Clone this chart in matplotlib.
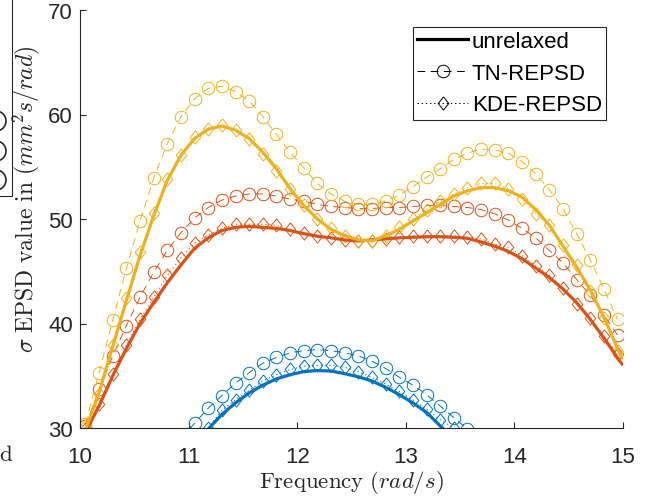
import numpy as np
import matplotlib
matplotlib.use("Agg")
import matplotlib.pyplot as plt
from matplotlib.lines import Line2D
from matplotlib.patches import Rectangle, Circle

plt.rcParams["font.family"] = ["Liberation Sans", "DejaVu Sans"]
plt.rcParams["mathtext.fontset"] = "cm"
plt.rcParams["lines.scale_dashes"] = False

nan = np.nan

# --- data -------------------------------------------------------------
# marker positions (rad/s) and the unrelaxed curve grid (same + end points)
freq = np.linspace(10.05, 14.95, 40)
freq_line = np.concatenate([[10.0], freq, [15.0]])

# unrelaxed (solid)
blue_unrelaxed = [nan] * 9 + [28.6, 29.9, 31.3, 32.4, 33.35, 34.1, 34.7, 35.1, 35.4, 35.5,
                              35.45, 35.2, 34.9, 34.5, 33.9, 33.2, 32.4, 31.5, 30.2, 29.0] + [nan] * 13
orange_unrelaxed = [28.6, 29.6, 32.1, 35.0, 37.6, 40.0, 42.0, 43.9, 45.6, 47.2, 48.2,
                    48.9, 49.2, 49.3, 49.2, 49.1, 48.9, 48.6, 48.35, 48.2, 48.0,
                    47.9, 48.0, 48.1, 48.2, 48.25, 48.3, 48.3, 48.25, 48.15, 47.8,
                    47.4, 46.9, 46.2, 45.3, 44.4, 43.3, 42.0, 40.4, 38.6, 36.7, 36.0]
yellow_unrelaxed = [28.4, 29.8, 33.4, 37.8, 42.2, 46.5, 50.3, 53.7, 56.1, 57.7, 58.6,
                    58.9, 58.5, 57.7, 56.4, 54.8, 52.9, 51.3, 50.0, 49.0, 48.4,
                    48.0, 47.9, 48.4, 49.0, 49.8, 50.6, 51.4, 52.2, 52.7, 53.0,
                    53.0, 52.7, 52.1, 50.9, 49.4, 47.4, 45.4, 43.2, 40.6, 37.6, 36.6]

# TN-REPSD (dashed, circles)
blue_tn = [nan] * 7 + [29.0, 30.45, 31.9, 33.1, 34.3, 35.3, 36.2, 36.75, 37.2, 37.4, 37.5,
                       37.4, 37.2, 36.9, 36.4, 35.7, 34.85, 34.1, 33.2, 32.1, 31.0, 29.9,
                       28.7] + [nan] * 10
orange_tn = [30.2, 33.7, 36.9, 39.8, 42.5, 44.9, 47.0, 48.7, 50.1, 51.1,
             51.8, 52.2, 52.4, 52.4, 52.2, 51.9, 51.7, 51.4, 51.2, 51.1,
             51.0, 51.0, 51.1, 51.1, 51.2, 51.3, 51.3, 51.2, 51.1, 50.9,
             50.5, 49.9, 49.1, 48.2, 47.0, 45.8, 44.2, 42.7, 40.8, 38.9]
yellow_tn = [30.4, 35.3, 40.3, 45.3, 49.8, 53.9, 57.2, 59.8, 61.5, 62.5,
             62.7, 62.2, 61.3, 59.8, 58.1, 56.4, 54.9, 53.4, 52.4, 51.7,
             51.4, 51.4, 51.7, 52.3, 53.1, 54.0, 54.8, 55.7, 56.3, 56.7,
             56.6, 56.3, 55.5, 54.3, 52.8, 51.0, 48.6, 46.1, 43.3, 40.4]

# KDE-REPSD (dotted, diamonds)
blue_kde = [nan] * 8 + [28.5, 30.0, 31.7, 32.7, 33.6, 34.5, 35.1, 35.6, 35.9, 36.0, 36.0,
                        35.8, 35.4, 34.85, 34.2, 33.5, 32.7, 31.8, 30.8, 30.0, 28.8] + [nan] * 11
orange_kde = [29.9, 32.3, 35.2, 37.9, 40.4, 42.5, 44.6, 46.3, 47.7, 48.5,
              49.1, 49.5, 49.5, 49.5, 49.4, 49.0, 48.7, 48.4, 48.2, 48.0,
              47.9, 47.9, 48.1, 48.25, 48.4, 48.4, 48.4, 48.4, 48.25, 48.1,
              47.6, 47.3, 46.5, 45.5, 44.6, 43.4, 41.9, 40.5, 38.8, 37.1]
yellow_kde = [30.2, 33.3, 37.9, 42.4, 46.8, 50.6, 53.8, 56.1, 57.8, 58.6,
              59.0, 58.5, 57.7, 56.2, 54.6, 52.9, 51.3, 50.0, 49.1, 48.4,
              47.9, 47.9, 48.4, 49.2, 50.0, 50.9, 51.7, 52.4, 53.0, 53.4,
              53.4, 52.9, 51.9, 50.5, 49.4, 47.5, 45.6, 43.1, 40.5, 37.4]

colors = ["#0072BD", "#D95319", "#EDB120"]
unrelaxed = [blue_unrelaxed, orange_unrelaxed, yellow_unrelaxed]
tn = [blue_tn, orange_tn, yellow_tn]
kde = [blue_kde, orange_kde, yellow_kde]
legend_labels = ["unrelaxed", "TN-REPSD", "KDE-REPSD"]

# --- styling ------------------------------------------------------------
AX_COL = "#262626"
DIAMOND = [(0, 1), (0.8, 0), (0, -1), (-0.8, 0), (0, 1)]
DASH = (0, (5.5, 4.0))
DOT = (0, (1.0, 2.0))

fig = plt.figure(figsize=(6.45, 5.02), dpi=100)
ax = fig.add_axes([80 / 645, 1 - 429 / 502, 543 / 645, 418 / 502])

for c, y in zip(colors, tn):
    ax.plot(freq, y, linestyle=DASH, lw=0.7, color=c, marker="o", ms=9,
            mfc="none", mew=0.7)
for c, y in zip(colors, kde):
    ax.plot(freq, y, linestyle=DOT, lw=0.7, color=c, marker=DIAMOND, ms=9.5,
            mfc="none", mew=0.7)
for c, y in zip(colors, unrelaxed):
    ax.plot(freq_line, y, "-", lw=2.3, color=c, solid_capstyle="butt")

ax.set_xlim(10, 15)
ax.set_ylim(30, 70)
ax.set_xticks(range(10, 16))
ax.set_yticks(range(30, 71, 10))
for s in ["top", "right"]:
    ax.spines[s].set_visible(False)
for s in ["left", "bottom"]:
    ax.spines[s].set_color(AX_COL)
    ax.spines[s].set_linewidth(0.8)
ax.tick_params(direction="in", length=4, width=0.8, color=AX_COL,
               labelcolor=AX_COL, labelsize=16)
ax.tick_params(axis="x", pad=13)
ax.tick_params(axis="y", pad=5)

ax.set_xlabel(r"$\mathrm{Frequency}\ (rad/s)$", fontsize=16.5, color=AX_COL)
ax.xaxis.set_label_coords(0.5, -0.095)
ax.set_ylabel(r"$\sigma\ \mathrm{EPSD\ value\ in}\ (mm^2s/rad)$", fontsize=17,
              color=AX_COL)
ax.yaxis.set_label_coords(-0.07, 0.55)

handles = [
    Line2D([], [], color="k", lw=2.3),
    Line2D([], [], color="k", lw=0.7, linestyle=DASH, marker="o", ms=9,
           mfc="none", mew=0.7),
    Line2D([], [], color="k", lw=0.7, linestyle=DOT, marker=DIAMOND, ms=9.5,
           mfc="none", mew=0.7),
]
leg = ax.legend(handles, legend_labels, loc="upper right", bbox_to_anchor=(1, 1),
                fontsize=16, frameon=True, fancybox=False, framealpha=1,
                edgecolor=AX_COL, borderaxespad=0.75, borderpad=0.2,
                labelspacing=0.48, handlelength=2.3, handletextpad=0.15)
leg.get_frame().set_linewidth(0.8)

# leftover bits of the neighbouring panel at the left edge
over = fig.add_axes([0, 0, 1, 1], facecolor="none")
over.set_xlim(0, 645)
over.set_ylim(502, 0)
over.axis("off")
over.add_patch(Rectangle((-10, -10), 22, 207, fill=False, ec=AX_COL, lw=0.8))
for cy in [122, 152, 181]:
    over.add_patch(Circle((-4, cy), 10, fill=False, ec=AX_COL, lw=1.2))
over.text(6, 455, r"$\mathrm{d}$", fontsize=16.5, ha="center", va="center",
          color=AX_COL)

fig.savefig("out.png", dpi=100)
